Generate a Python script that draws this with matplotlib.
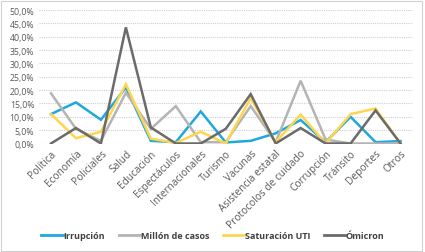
import matplotlib
matplotlib.use("Agg")
import matplotlib.pyplot as plt
from matplotlib.ticker import FuncFormatter, MultipleLocator
from matplotlib.patches import Rectangle

categories = ["Política", "Economía", "Policiales", "Salud", "Educación",
              "Espectáculos", "Internacionales", "Turismo", "Vacunas",
              "Asistencia estatal", "Protocolos de cuidado", "Corrupción",
              "Tránsito", "Deportes", "Otros"]

irrupcion = [11.0, 15.4, 8.9, 21.0, 1.0, 0.5, 12.0, 0.4, 1.0, 3.8, 8.8, 0.5, 10.0, 0.5, 0.9]
millon = [18.8, 5.5, 1.0, 19.0, 5.5, 14.0, 0.5, 0.5, 14.0, 0.5, 23.5, 1.5, 0.0, 0.0, 0.0]
saturacion = [11.0, 2.0, 4.4, 22.2, 1.8, 0.2, 4.4, 0.0, 17.0, 0.5, 10.8, 0.0, 11.0, 13.1, 0.0]
omicron = [0.0, 5.8, 0.0, 43.5, 6.0, 0.0, 0.0, 5.5, 18.5, 0.0, 5.8, 0.0, 0.0, 12.4, 0.0]

series = [("Irrupción", irrupcion, "#1FA7E0"),
          ("Millón de casos", millon, "#B4B4B4"),
          ("Saturación UTI", saturacion, "#FFD54F"),
          ("Ómicron", omicron, "#6B6B6B")]

font = "Open Sans"
txt_color = "#595959"

fig = plt.figure(figsize=(4.25, 2.53), dpi=100)
ax = fig.add_axes([38.5 / 425, 1 - 144.5 / 253, (413 - 38.5) / 425, (144.5 - 11) / 253])

x = list(range(len(categories)))
for name, vals, col in series:
    ax.plot(x, [v / 100 for v in vals], color=col, lw=1.8, label=name,
            solid_joinstyle="miter", zorder=3)

ax.set_xlim(-0.5, len(categories) - 0.5)
ax.set_ylim(0, 0.5)
ax.yaxis.set_major_locator(MultipleLocator(0.05))
ax.yaxis.set_major_formatter(FuncFormatter(lambda v, p: f"{v*100:.1f}%".replace(".", ",")))
ax.grid(axis="y", color="#CFCFCF", lw=0.8, ls=(0, (1, 1)))
ax.set_axisbelow(True)
for s in ax.spines.values():
    s.set_visible(False)
ax.tick_params(axis="y", length=0, labelsize=6.3, colors=txt_color, pad=3)
ax.tick_params(axis="x", length=0, labelsize=7.3, colors=txt_color, pad=3)
ax.set_xticks(x)
ax.set_xticklabels(categories, rotation=45, ha="right", rotation_mode="anchor",
                   fontfamily=font)
for lab in ax.get_yticklabels():
    lab.set_fontfamily(font)

leg = fig.legend(loc="center", bbox_to_anchor=(213 / 425, 1 - 237 / 253), ncol=4,
                 frameon=False, prop={"family": font, "size": 6.5, "weight": "bold"},
                 handlelength=2.4, handletextpad=0.05, columnspacing=1.5)
for t in leg.get_texts():
    t.set_color("#404040")
for h in leg.get_lines():
    h.set_linewidth(2.0)

fig.patches.append(Rectangle((1 / 425, 1 / 253), 421 / 425, 250 / 253,
                             transform=fig.transFigure, fill=False,
                             edgecolor="#D0D0D0", lw=0.8))

fig.savefig("out.png", dpi=100)
